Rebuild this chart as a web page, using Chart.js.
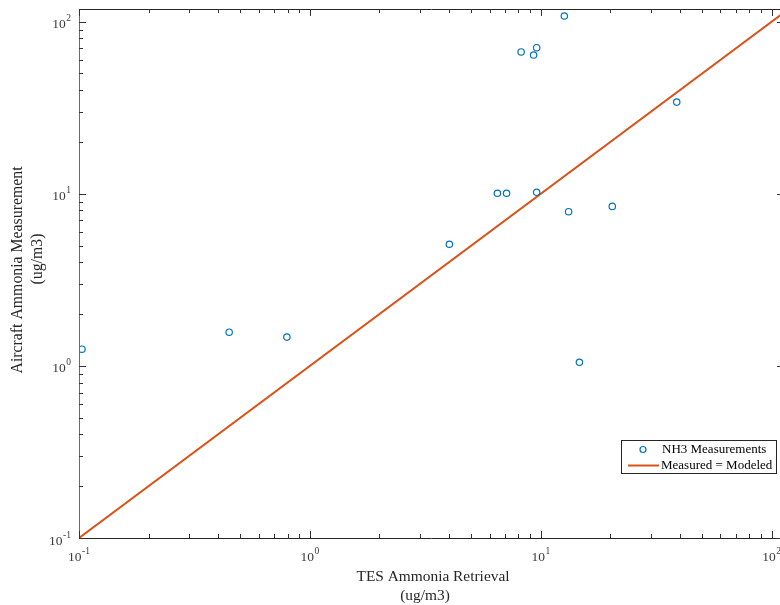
<!DOCTYPE html>
<html>
<head>
<meta charset="utf-8">
<script src="https://cdn.jsdelivr.net/npm/chart.js@4/dist/chart.umd.min.js"></script>
<style>
html, body { margin:0; padding:0; overflow:hidden; background:#fff; width:780px; height:605px; }
#wrap { width:800px; height:605px; }
</style>
</head>
<body>
<div id="wrap"><canvas id="c" width="800" height="605"></canvas></div>
<script>
// ---- data ----
const tesRetrieval = [0.103, 0.447, 0.795, 4.02, 6.49, 7.11, 9.6, 13.2, 20.4, 14.7, 12.65, 8.22, 9.31, 9.6, 38.8];
const aircraftMeasurement = [1.25, 1.57, 1.47, 5.09, 10.07, 10.07, 10.2, 7.87, 8.45, 1.05, 107.9, 66.7, 64.0, 70.6, 34.1];
const oneToOneX = [0.1, 120];
const oneToOneY = [0.1, 120];
const tickExponents = [-1, 0, 1, 2];
const seriesNames = ['NH3 Measurements', 'Measured = Modeled'];
const xTitle = ['TES Ammonia Retrieval', '(ug/m3)'];
const yTitle = ['Aircraft Ammonia Measurement', '(ug/m3)'];

const BLUE = '#0072BD', ORANGE = '#D95319';
const FONT = '"Liberation Serif", "Times New Roman", serif';

const scatterData = tesRetrieval.map((x, i) => ({x: x, y: aircraftMeasurement[i]}));
const lineData = oneToOneX.map((x, i) => ({x: x, y: oneToOneY[i]}));

function drawPow(ctx, exp, x, y, align) {
  ctx.font = '13.5px ' + FONT;
  const base = '10';
  const wb = ctx.measureText(base).width;
  ctx.font = '9.5px ' + FONT;
  const sup = exp < 0 ? '-' + Math.abs(exp) : String(exp);
  const ws = ctx.measureText(sup).width;
  const total = wb + ws + 0.5;
  let left;
  if (align === 'right') left = x - total;
  else left = x - total / 2;
  ctx.textBaseline = 'middle';
  ctx.textAlign = 'left';
  ctx.font = '13.5px ' + FONT;
  ctx.fillText(base, left, y);
  ctx.font = '9.5px ' + FONT;
  ctx.fillText(sup, left + wb + 0.5, y - 6);
}

const axesPlugin = {
  id: 'matlabAxes',
  afterDraw(chart) {
    const ctx = chart.ctx;
    const a = chart.chartArea;
    const xs = chart.scales.x, ys = chart.scales.y;
    ctx.save();
    ctx.lineWidth = 1;
    ctx.strokeStyle = '#262626';
    ctx.beginPath();
    ctx.moveTo(a.left, a.bottom + 0.5); ctx.lineTo(a.right, a.bottom + 0.5);
    ctx.moveTo(a.left, a.top + 0.5); ctx.lineTo(a.right, a.top + 0.5);
    ctx.moveTo(a.right - 0.5, a.top); ctx.lineTo(a.right - 0.5, a.bottom);
    ctx.stroke();
    ctx.strokeStyle = '#6a6a6a';
    ctx.beginPath();
    ctx.moveTo(a.left + 0.5, a.top); ctx.lineTo(a.left + 0.5, a.bottom + 1);
    ctx.stroke();
    // ticks
    ctx.strokeStyle = '#333';
    for (const d of tickExponents.concat([3])) {
      for (let m = 1; m <= 9; m++) {
        const val = m * Math.pow(10, d);
        const len = m === 1 ? 7 : 4;
        if (val >= xs.min - 1e-9 && val <= xs.max) {
          const px = Math.round(xs.getPixelForValue(val)) + 0.5;
          ctx.beginPath();
          ctx.moveTo(px, a.bottom); ctx.lineTo(px, a.bottom - len);
          ctx.moveTo(px, a.top); ctx.lineTo(px, a.top + len);
          ctx.stroke();
        }
        if (val >= ys.min - 1e-9 && val <= ys.max) {
          const py = Math.round(ys.getPixelForValue(val)) + 0.5;
          ctx.beginPath();
          ctx.moveTo(a.left, py); ctx.lineTo(a.left + len, py);
          ctx.moveTo(a.right, py); ctx.lineTo(a.right - len, py);
          ctx.stroke();
        }
      }
    }
    // tick labels
    ctx.fillStyle = '#3a3a3a';
    for (const e of tickExponents) {
      const val = Math.pow(10, e);
      const px = xs.getPixelForValue(val);
      drawPow(ctx, e, px, a.bottom + 19, 'center');
      const py = ys.getPixelForValue(val);
      drawPow(ctx, e, a.left - 8, py + 3, 'right');
    }
    // axis titles
    ctx.fillStyle = '#262626';
    ctx.font = '15.4px ' + FONT;
    ctx.textAlign = 'center';
    ctx.textBaseline = 'middle';
    ctx.fillText(xTitle[0], 433, 577);
    ctx.fillText(xTitle[1], 425, 596);
    ctx.font = '15.8px ' + FONT;
    ctx.save();
    ctx.translate(18, 270);
    ctx.rotate(-Math.PI / 2);
    ctx.fillText(yTitle[0], 0, 0);
    ctx.restore();
    ctx.save();
    ctx.translate(38, 259);
    ctx.rotate(-Math.PI / 2);
    ctx.fillText(yTitle[1], 0, 0);
    ctx.restore();
    // legend
    const lx = 621.5, ly = 440.5, lw = 155, lh = 33;
    ctx.fillStyle = '#fff';
    ctx.fillRect(lx, ly, lw, lh);
    ctx.strokeStyle = '#262626';
    ctx.lineWidth = 1;
    ctx.strokeRect(lx, ly, lw, lh);
    ctx.strokeStyle = BLUE;
    ctx.lineWidth = 1.2;
    ctx.beginPath();
    ctx.arc(643, 449.5, 3, 0, Math.PI * 2);
    ctx.stroke();
    ctx.strokeStyle = ORANGE;
    ctx.lineWidth = 2;
    ctx.beginPath();
    ctx.moveTo(628, 465.5); ctx.lineTo(659, 465.5);
    ctx.stroke();
    ctx.fillStyle = '#000';
    ctx.font = '13px ' + FONT;
    ctx.textAlign = 'left';
    ctx.textBaseline = 'middle';
    ctx.fillText(seriesNames[0], 662, 449.5);
    ctx.fillText(seriesNames[1], 661, 465.5);
    ctx.restore();
  }
};

new Chart(document.getElementById('c'), {
  type: 'scatter',
  data: {
    datasets: [
      {
        label: seriesNames[0],
        data: scatterData,
        pointStyle: 'circle',
        pointRadius: 3.2,
        pointBorderWidth: 1.2,
        pointBorderColor: BLUE,
        pointBackgroundColor: 'rgba(0,0,0,0)',
        showLine: false,
        order: 1
      },
      {
        label: seriesNames[1],
        data: lineData,
        showLine: true,
        borderColor: ORANGE,
        borderWidth: 2,
        pointRadius: 0,
        fill: false,
        order: 2
      }
    ]
  },
  options: {
    responsive: false,
    animation: false,
    devicePixelRatio: 1,
    layout: { padding: { top: 9, right: 16, left: 0, bottom: 0 } },
    plugins: { legend: { display: false }, tooltip: { enabled: false } },
    scales: {
      x: {
        type: 'logarithmic', min: 0.1, max: 113.1,
        grid: { display: false }, border: { display: false },
        ticks: { display: false },
        afterFit: s => { s.height = 67; }
      },
      y: {
        type: 'logarithmic', min: 0.1, max: 118.5,
        grid: { display: false }, border: { display: false },
        ticks: { display: false },
        afterFit: s => { s.width = 79; }
      }
    }
  },
  plugins: [axesPlugin]
});
</script>
</body>
</html>
